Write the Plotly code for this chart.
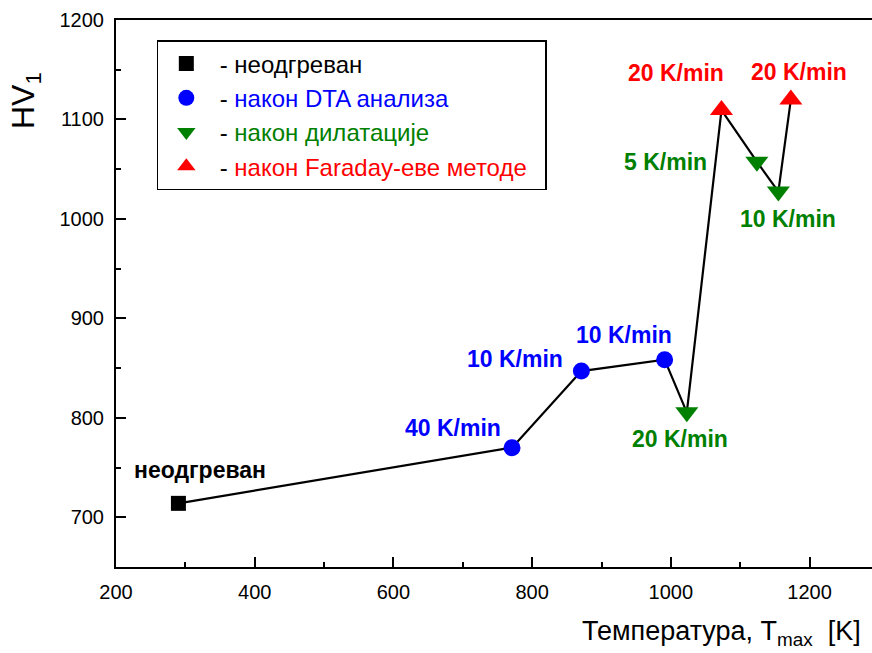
import plotly.graph_objects as go

# Data
unheated_T = [290]
unheated_HV = [714]
dta_T = [771, 871, 991]
dta_HV = [770, 847, 858.5]
dil_T = [1023, 1124, 1155]
dil_HV = [805.5, 1057.5, 1027.5]
far_T = [1073, 1173]
far_HV = [1109.5, 1120]

# line order (temperature sequence as connected in the figure)
line_T = [290, 771, 871, 991, 1023, 1073, 1124, 1155, 1173]
line_HV = [714, 770, 847, 858.5, 805.5, 1109.5, 1057.5, 1027.5, 1120]

BLUE = "#0000FF"
GREEN = "#008000"
RED = "#FF0000"
FONT = "Liberation Sans, Arial, sans-serif"
SP = "\u00a0\u00a0"

fig = go.Figure()
fig.add_trace(go.Scatter(x=line_T, y=line_HV, mode="lines",
                         line=dict(color="black", width=2.2), showlegend=False,
                         hoverinfo="skip"))
fig.add_trace(go.Scatter(x=unheated_T, y=unheated_HV, mode="markers",
                         marker=dict(symbol="square", size=15, color="black"),
                         name=f"{SP}- неодгреван", legendgroup="a"))
fig.add_trace(go.Scatter(x=dta_T, y=dta_HV, mode="markers",
                         marker=dict(symbol="circle", size=17, color=BLUE),
                         name=f"{SP}- <span style='color:{BLUE}'>након DTA анализа</span>",
                         legendgroup="b"))
fig.add_trace(go.Scatter(x=dil_T, y=dil_HV, mode="markers",
                         marker=dict(symbol="triangle-down", size=20, color=GREEN),
                         name=f"{SP}- <span style='color:{GREEN}'>након дилатације</span>",
                         legendgroup="c"))
fig.add_trace(go.Scatter(x=far_T, y=far_HV, mode="markers",
                         marker=dict(symbol="triangle-up", size=20, color=RED),
                         name=f"{SP}- <span style='color:{RED}'>након Faraday-еве методе</span>{SP}",
                         legendgroup="d"))

# point labels: (text, x, y, color, xanchor, xshift, yshift)
labels = [
    ("неодгреван", unheated_T[0], unheated_HV[0], "black", "center", 22, 33),
    ("40 K/min", dta_T[0], dta_HV[0], BLUE, "right", -9, 20),
    ("10 K/min", dta_T[1], dta_HV[1], BLUE, "right", -16, 12),
    ("10 K/min", dta_T[2], dta_HV[2], BLUE, "center", -41, 25),
    ("20 K/min", dil_T[0], dil_HV[0], GREEN, "center", -7, -27),
    ("5 K/min", dil_T[1], dil_HV[1], GREEN, "right", -48, 0),
    ("10 K/min", dil_T[2], dil_HV[2], GREEN, "center", 10, -27),
    ("20 K/min", far_T[0], far_HV[0], RED, "center", -45, 37),
    ("20 K/min", far_T[1], far_HV[1], RED, "center", 8, 28),
]
for txt, x, y, c, xa, xs, ys in labels:
    fig.add_annotation(x=x, y=y, xref="x", yref="y", text=f"<b>{txt}</b>",
                       showarrow=False, xanchor=xa, yanchor="middle",
                       xshift=xs, yshift=ys,
                       font=dict(family=FONT, size=23, color=c))

# axis titles
fig.add_annotation(xref="paper", yref="paper", x=0.988, y=-0.1207,
                   xanchor="right", yanchor="middle", showarrow=False,
                   text="Температура, T<sub>max</sub>\u00a0\u00a0[K]",
                   font=dict(family=FONT, size=27, color="black"))
fig.add_annotation(xref="paper", yref="paper", x=-0.1204, y=0.8537,
                   xanchor="center", yanchor="middle", showarrow=False,
                   textangle=-90, text="HV<sub>1</sub>",
                   font=dict(family=FONT, size=32, color="black"))

fig.update_layout(
    width=872, height=653,
    margin=dict(l=116, r=0, t=20, b=86),
    plot_bgcolor="white", paper_bgcolor="white",
    font=dict(family=FONT, size=20, color="black"),
    legend=dict(x=0.054, y=0.9634, xanchor="left", yanchor="top",
                bordercolor="black", borderwidth=1.5, bgcolor="white",
                font=dict(family=FONT, size=24, color="black"),
                tracegroupgap=0, indentation=8),
    xaxis=dict(range=[200, 1290], dtick=200, tick0=200, automargin=False,
               showline=True, linecolor="black", linewidth=2,
               mirror=True, ticks="inside", ticklen=10, tickwidth=2,
               tickcolor="black", showgrid=False, zeroline=False,
               minor=dict(dtick=100, ticks="inside", ticklen=5, tickwidth=2,
                          tickcolor="black"),
               ticklabelstandoff=6,
               tickfont=dict(family=FONT, size=20, color="black")),
    yaxis=dict(range=[650, 1200], dtick=100, tick0=700, automargin=False,
               showline=True, linecolor="black", linewidth=2,
               mirror=False, ticks="inside", ticklen=10, tickwidth=2,
               tickcolor="black", showgrid=False, zeroline=False,
               minor=dict(dtick=50, ticks="inside", ticklen=5, tickwidth=2,
                          tickcolor="black"),
               ticklabelstandoff=6,
               tickfont=dict(family=FONT, size=20, color="black")),
)

fig.write_html("out.html", config={"displayModeBar": False},
               post_script="document.body.style.margin='0';document.body.style.overflow='hidden';")
